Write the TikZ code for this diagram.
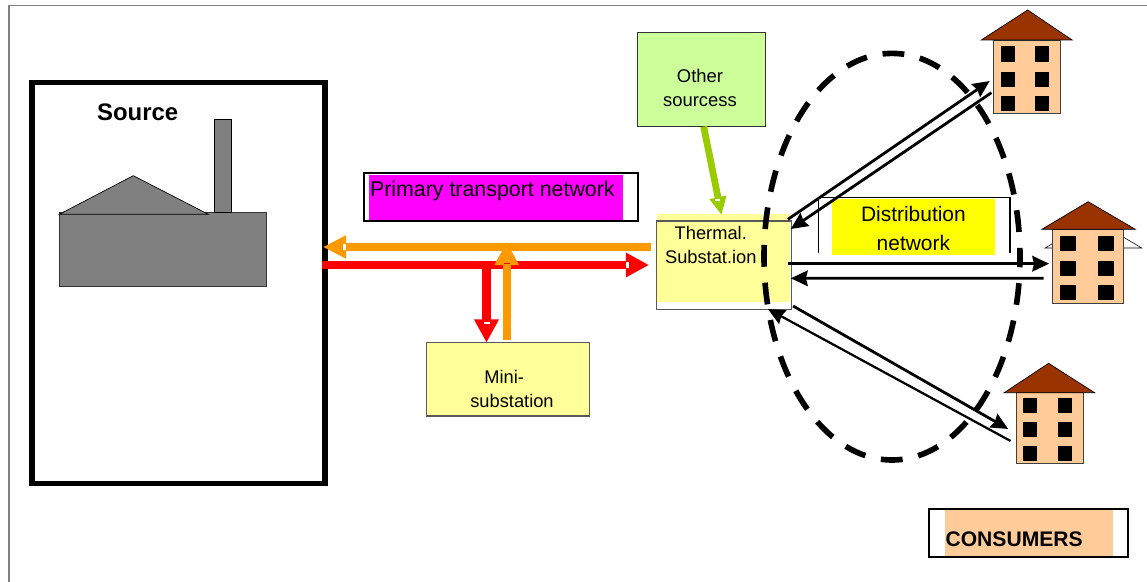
\documentclass[tikz,border=0pt]{standalone}
\usepackage{fontspec}
\setmainfont{Liberation Sans}
\usetikzlibrary{arrows.meta}
\definecolor{paleyellow}{HTML}{FFFF99}
\definecolor{palegreen}{HTML}{CCFF99}
\definecolor{peach}{HTML}{FFCC99}
\definecolor{roofbrown}{HTML}{993300}
\definecolor{hotorange}{HTML}{FF9900}
\definecolor{limegreen}{HTML}{99CC00}
\definecolor{puremagenta}{HTML}{FF00FF}
\definecolor{pureyellow}{HTML}{FFFF00}
\definecolor{purered}{HTML}{FF0000}
\tikzset{
	box/.style={rectangle,inner sep=0pt,outer sep=0pt},
	lbl/.style={inner sep=0pt,outer sep=0pt,align=center,text=black},
	flowred/.style={draw=purered,line width=5.9pt,-{Triangle[length=16.5pt,width=16.5pt]}},
	floworange/.style={draw=hotorange,line width=5.9pt,-{Triangle[length=16.5pt,width=16.5pt]}},
	serve/.style={draw=black,line width=2pt,-{Stealth[length=12pt,width=11pt,inset=1.2pt]}},
	housebody/.style={box,draw=black!75,line width=0.7pt,fill=peach},
	roof/.style={draw=black,line width=0.5pt,fill=roofbrown},
	window/.style={fill=black}
}
\begin{document}
\begin{tikzpicture}[x=0.025cm,y=-0.025cm]
	\useasboundingbox (0,0) rectangle (1147,582);
	\draw [black!50,line width=0.8pt] (9,582) -- (9,5.5) -- (1147,5.5);

	% source with factory
	\node [box,draw=black,line width=3.6pt,minimum width=293*0.711pt,minimum height=402*0.711pt] (source) at (178.5,283) {};
	\node [lbl,font=\fontsize{17}{20}\selectfont\bfseries] (sourcetext) at (137.7,112.5) {Source};
	\node [box,draw=black!80,line width=0.6pt,fill=black!50,minimum width=206.7*0.711pt,minimum height=74.4*0.711pt] (factory) at (162.6,249.5) {};
	\draw [draw=black,line width=0.6pt,fill=black!50] (214,212.3) rectangle (231.7,119.3);
	\draw [roof,fill=black!50] (59.3,214.3) -- (133.3,175.7) -- (208.3,214.3) -- cycle;

	% primary network label
	\fill [puremagenta] (369,175) rectangle (623,220);
	\node [box,draw=black,line width=1.2pt,minimum width=273.4*0.711pt,minimum height=48*0.711pt] (primary) at (501,197.3) {};
	\node [lbl,anchor=base west,font=\fontsize{15.2}{18}\selectfont] (primarytext) at (370,197) {Primary transport network};

	% substations
	\fill [paleyellow] (656.6,214) rectangle (790,301.7);
	\node [box,draw=black!65,line width=0.8pt,minimum width=134.5*0.711pt,minimum height=88.3*0.711pt] (thermal) at (723.85,265.15) {};
	\node [lbl,font=\fontsize{13}{17.2}\selectfont] (thermaltext) at (710.8,244.7) {Thermal.\\Substat.ion};

	\node [box,draw=black!65,line width=0.8pt,fill=paleyellow,minimum width=163*0.711pt,minimum height=73.3*0.711pt] (mini) at (507.8,379.3) {};
	\node [lbl,align=left,font=\fontsize{13}{17}\selectfont] (minitext) at (512,388.7) {\hspace*{10pt}Mini-\\substation};

	\node [box,draw=black!80,line width=0.8pt,fill=palegreen,minimum width=127.7*0.711pt,minimum height=94*0.711pt] (other) at (701.35,79.7) {};
	\node [lbl,font=\fontsize{13.1}{17.4}\selectfont] (othertext) at (700,87.8) {Other\\sourcess};

	% distribution label
	\fill [pureyellow] (832.1,199.3) rectangle (994.8,255);
	\coordinate (distleft) at (818.3,253.3);
	\coordinate (distright) at (1009.9,253.3);
	\draw [black,line width=1pt] (distleft) |- (913,197.7) -| (distright);
	\node [lbl,font=\fontsize{14.9}{20.8}\selectfont] (disttext) at (913.4,228.2) {Distribution\\network};

	% primary flows
	\coordinate (tapred) at (486.5,265);
	\coordinate (mergeorange) at (506.7,242);
	\draw [flowred] ([shift={(-3,0)}]source.east |- tapred) -- ([shift={(-74.85,0)}]thermal.center |- tapred);
	\draw [flowred] (tapred) -- (tapred |- mini.north);
	\draw [floworange,arrows=-{Triangle[length=16.5pt,width=15.5pt]}] ([shift={(-5.6,-18.15)}]thermal.west) -- ([shift={(-2,-36)}]source.east);
	\draw [floworange] ([shift={(0,-2.5)}]mergeorange |- mini.north) -- (mergeorange);
	\fill [white] (343,243.7) rectangle (346,250.3);
	\fill [white] (626,261.7) rectangle (628.8,268.3);
	\fill [white] (483.5,322) rectangle (489.5,324.4);
	\fill [purered] (503.7,262.8) rectangle (509.7,264.2);

	\draw [draw=limegreen,line width=4.8pt,-{Triangle[length=12.8pt,width=11.4pt]}] ([shift={(2.35,0)}]other.south) -- ([shift={(-2.35,-6)}]thermal.north);
	\fill [white] (714.7,199.1) rectangle (720.3,200.9);

	% houses
	\draw [draw=black,line width=0.4pt,fill=white] (1045.2,248) -- (1093,219) -- (1141.7,248) -- cycle;
	\node [housebody,minimum width=67.2*0.711pt,minimum height=74*0.711pt] (house1) at (1026.7,77) {};
	\draw [roof] (981.3,40) -- (1027.7,10) -- (1072.1,40) -- cycle;
	\foreach \wx in {1000.5,1035.1}
		\foreach \wy in {46.3,72,95.7}
			\fill [window] (\wx,\wy) rectangle ++(14.3,15.4);

	\node [housebody,minimum width=70.6*0.711pt,minimum height=74*0.711pt] (house2) at (1087.9,266.3) {};
	\draw [roof] (1041.9,229.3) -- (1088.2,201.7) -- (1135.3,229.3) -- cycle;
	\foreach \wx in {1060,1097.7}
		\foreach \wy in {235.7,261,285}
			\fill [window] (\wx,\wy) rectangle ++(15.8,15.4);

	\node [housebody,minimum width=67.6*0.711pt,minimum height=70.6*0.711pt] (house3) at (1050.1,428) {};
	\draw [roof] (1004.2,392.7) -- (1048.6,363.3) -- (1094.6,392.7) -- cycle;
	\foreach \wx in {1023.4,1058}
		\foreach \wy in {397.7,422.3,446}
			\fill [window] (\wx,\wy) rectangle ++(13.6,15);

	% distribution flows
	\draw [serve] ([shift={(-3.1,-45.85)}]thermal.east) -- ([shift={(-3.4,4)}]house1.west);
	\draw [serve] ([shift={(-1.7,15.7)}]house1.west) -- ([shift={(-0.3,-36.15)}]thermal.east);
	\draw [serve] ([shift={(-3.1,-1.45)}]thermal.east) -- ([shift={(-3.4,-2.6)}]house2.west);
	\draw [serve] ([shift={(-9.1,12)}]house2.west) -- ([shift={(-0.3,13.15)}]thermal.east);
	\draw [serve] ([shift={(2,40.85)}]thermal.east) -- ([shift={(-8.1,1)}]house3.west);
	\draw [serve,line width=1.6pt] ([shift={(-5.7,13)}]house3.west) -- ([shift={(-23.2,43.85)}]thermal.east);

	% network ring
	\draw [black,line width=4pt,dash pattern=on 15.5pt off 11.34pt,dash phase=8pt] (892,256.7) ellipse (128 and 203.3);

	% consumers label
	\fill [peach] (945,510) rectangle (1113,556);
	\node [box,draw=black,line width=1.3pt,minimum width=199*0.711pt,minimum height=48*0.711pt] (consumers) at (1028.8,533.3) {};
	\node [lbl,anchor=west,font=\fontsize{15}{18}\selectfont\bfseries] (consumerstext) at (945.6,539.6) {CONSUMERS};
\end{tikzpicture}
\end{document}
